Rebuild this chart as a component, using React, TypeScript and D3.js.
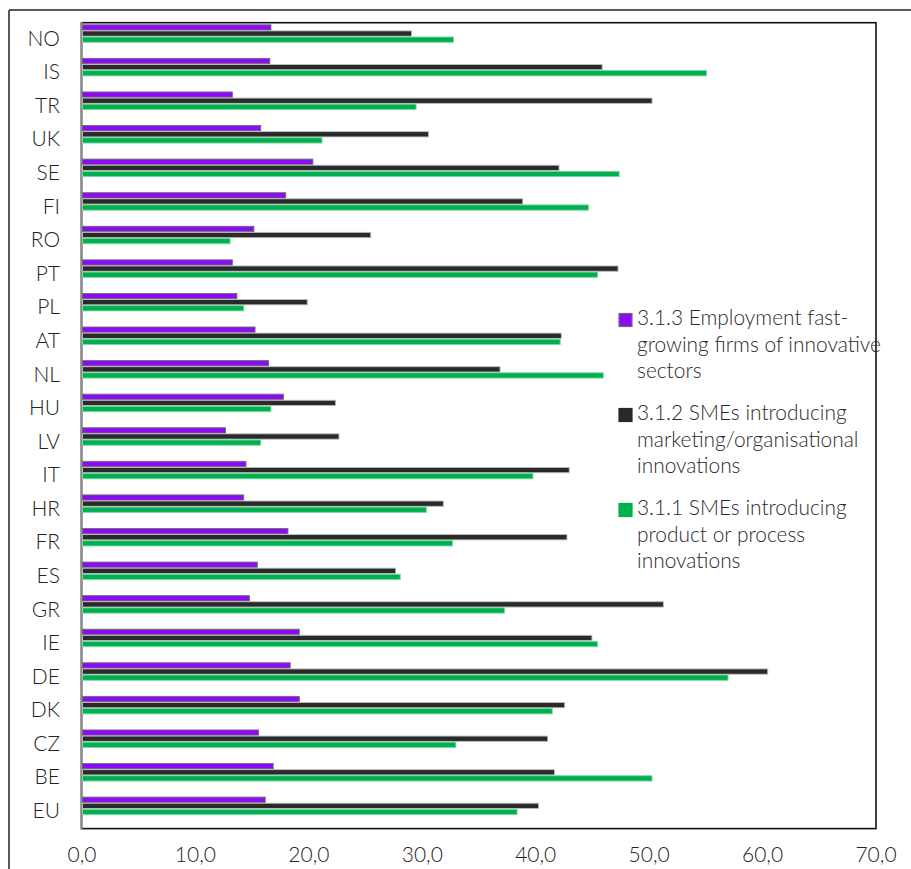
import React from "react";
import * as d3 from "d3";

const categories = ["NO","IS","TR","UK","SE","FI","RO","PT","PL","AT","NL","HU","LV","IT","HR","FR","ES","GR","IE","DE","DK","CZ","BE","EU"];
const employment313 = [16.7,16.6,13.3,15.8,20.4,18.0,15.2,13.3,13.7,15.3,16.5,17.8,12.7,14.5,14.3,18.2,15.5,14.8,19.2,18.4,19.2,15.6,16.9,16.2];
const marketing312 = [29.1,45.9,50.3,30.6,42.1,38.9,25.5,47.3,19.9,42.3,36.9,22.4,22.7,43.0,31.9,42.8,27.7,51.3,45.0,60.5,42.6,41.1,41.7,40.3];
const product311 = [32.8,55.1,29.5,21.2,47.4,44.7,13.1,45.5,14.3,42.2,46.0,16.7,15.8,39.8,30.4,32.7,28.1,37.3,45.5,57.0,41.5,33.0,50.3,38.4];
const xTicks = [0,10,20,30,40,50,60,70];

const seriesNames = [
  ["3.1.3 Employment fast-", "growing firms of innovative", "sectors"],
  ["3.1.2 SMEs introducing", "marketing/organisational", "innovations"],
  ["3.1.1 SMEs introducing", "product or process", "innovations"],
];
const seriesValues = [employment313, marketing312, product311];
const fills = ["#8B0CF4", "#2A2A2A", "#00B050"];
const strokes = ["#6E6E6E", "#BDBDBD", "#7ED7A0"];

const W = 911, H = 869;
const FONT = "Lato, 'Liberation Sans', sans-serif";

export default function App() {
  const x = d3.scaleLinear().domain([0, 70]).range([82, 876]);
  const y = d3.scaleBand().domain(categories).range([22.7, 828.6]).padding(0);
  const slot = 6.1;
  const fmt = (v: number) => d3.format(".1f")(v).replace(".", ",");

  return (
    <svg width={W} height={H} style={{ position: "absolute", left: 0, top: 0, background: "#fff" }}>
      {/* outer frame */}
      <line x1={9} y1={10} x2={W} y2={10} stroke="#5a5a5a" strokeWidth={2} />
      <line x1={9} y1={10} x2={9} y2={H} stroke="#5a5a5a" strokeWidth={2} />
      {/* plot area border */}
      <rect x={81.5} y={22.7} width={876 - 81.5} height={828.6 - 22.7} fill="none" stroke="#111" strokeWidth={1.6} />
      <line x1={81.5} y1={22} x2={81.5} y2={829} stroke="#8a8a8a" strokeWidth={2} />

      {categories.map((c, ci) => (
        <g key={c}>
          {seriesValues.map((vals, si) => (
            <rect
              key={si}
              x={x(0) + 0.5}
              y={(y(c) as number) + 1.7 + si * slot + 0.4}
              width={Math.max(0, x(vals[ci]) - x(0) - 1)}
              height={slot - 0.8}
              fill={fills[si]}
              stroke={strokes[si]}
              strokeWidth={0.9}
            />
          ))}
          <text
            x={60}
            y={(y(c) as number) + y.bandwidth() / 2 + 1}
            textAnchor="end"
            dominantBaseline="middle"
            fontFamily={FONT}
            fontSize={21}
            fontWeight={300}
            fill="#222"
          >
            {c}
          </text>
        </g>
      ))}

      {xTicks.map((t) => (
        <text
          key={t}
          x={x(t)}
          y={857}
          textAnchor="middle"
          dominantBaseline="middle"
          fontFamily={FONT}
          fontSize={21}
          fontWeight={300}
          fill="#222"
        >
          {fmt(t)}
        </text>
      ))}

      {seriesNames.map((lines, si) => {
        const top = 320 + si * 95;
        return (
          <g key={si}>
            <rect x={619} y={top - 6.5} width={13} height={13} fill={fills[si]} stroke={si === 0 ? "#6E6E6E" : fills[si]} strokeWidth={1.2} />
            {lines.map((ln, li) => (
              <text
                key={li}
                x={637}
                y={top + li * 26.6}
                dominantBaseline="middle"
                fontFamily={FONT}
                fontSize={20.9}
                fontWeight={300}
                fill="#2a2a2a"
              >
                {ln}
              </text>
            ))}
          </g>
        );
      })}
    </svg>
  );
}
